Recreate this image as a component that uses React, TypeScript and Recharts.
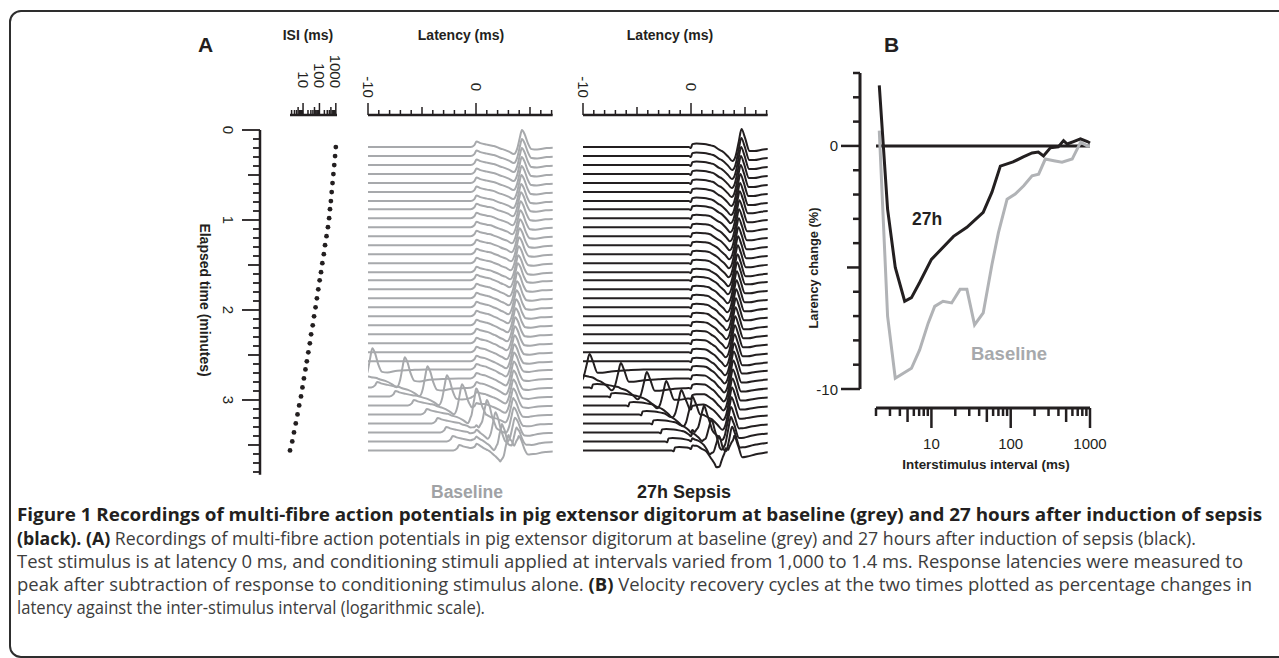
import React from "react";
import { LineChart, Line, XAxis, YAxis, ScatterChart, Scatter, ReferenceLine } from "recharts";

const INK = "#231f20";
const GREY = "#a7a9ac";
const SANS = "'Liberation Sans', Arial, sans-serif";
const CAPTION_FONT = "'Open Sans', 'Noto Sans', sans-serif";

// ---------- panel A: one row per recording ----------
// elapsed time of each recording (min) and its conditioning interval (ms)
const ROW_TIME = [
  0.19, 0.29, 0.39, 0.49, 0.59, 0.69, 0.79, 0.88, 0.98, 1.08, 1.18, 1.28,
  1.38, 1.48, 1.58, 1.67, 1.77, 1.87, 1.97, 2.07, 2.17, 2.27, 2.37, 2.47,
  2.57, 2.66, 2.76, 2.86, 2.96, 3.06, 3.16, 3.26, 3.36, 3.46, 3.56,
];
const ROW_ISI = [
  1000, 900, 800, 710, 630, 560, 500, 440, 390, 330, 270, 220, 185, 150, 125,
  103, 85, 70, 58, 47, 39, 31, 26, 21, 17, 14, 11.3, 9.2, 7.5, 5.8, 4.6, 3.6,
  2.8, 2.2, 1.6,
];

// latency (ms) of the test response peak in each row
const BASE_PEAK = [
  4.25, 4.25, 4.24, 4.23, 4.22, 4.2, 4.18, 4.16, 4.13, 4.1, 4.07, 4.03, 3.99,
  3.95, 3.91, 3.87, 3.83, 3.79, 3.75, 3.71, 3.67, 3.63, 3.6, 3.57, 3.54, 3.52,
  3.5, 3.48, 3.46, 3.45, 3.45, 3.5, 3.6, 3.75, 3.95,
];
const SEPSIS_PEAK = [
  4.68, 4.66, 4.64, 4.62, 4.6, 4.57, 4.54, 4.51, 4.48, 4.45, 4.42, 4.39, 4.36,
  4.33, 4.3, 4.27, 4.24, 4.21, 4.18, 4.15, 4.12, 4.09, 4.06, 4.03, 4.0, 3.96,
  3.92, 3.88, 3.84, 3.8, 3.75, 3.7, 3.7, 3.8, 4.0,
];

// latency (ms) of the conditioning response peak, where it shows in the window
const N = null;
const BASE_COND = [
  N, N, N, N, N, N, N, N, N, N, N, N, N, N, N, N, N, N, N, N, N, N, N, N, N,
  -9.6, -6.6, -4.5, -2.7, -1.3, 0.0, 1.0, 1.8, 2.4, 3.0,
];
const SEPSIS_COND = [
  N, N, N, N, N, N, N, N, N, N, N, N, N, N, N, N, N, N, N, N, N, N, N, N, N,
  -9.4, -6.5, -4.1, -2.3, -0.9, 0.1, 1.2, 1.9, 2.6, 3.2,
];
// size of the conditioning response against the test response
const BASE_COND_GAIN = 1.25;
const SEPSIS_COND_GAIN = 0.85;

// single-stimulus waveform (amplitude in px, up = +)
// stim part sits at the stimulus, resp part is placed on the response peak
const BASE_STIM_X = [-0.5, -0.15, 0.05, 0.4, 1.0, 1.6, 2.3];
const BASE_STIM_A = [0, 2, 5.5, 4, 2.5, 1.2, 0];
const BASE_RESP_X = [-2.6, -1.8, -1.2, -0.75, -0.42, -0.2, 0, 0.25, 0.55, 0.9, 1.4, 2.3, 3.5, 5];
const BASE_RESP_A = [0, -2, -4.5, -7, -1, 9, 17, 13, 4, -2, -2.5, -1, -0.5, 0];

const SEPSIS_STIM_X = [-0.2, 0.0, 0.12, 0.5, 1.2, 1.9, 2.6];
const SEPSIS_STIM_A = [0, -0.8, 3, 3.5, 3, 1.5, 0];
const SEPSIS_RESP_X = [-2.6, -1.8, -1.2, -0.85, -0.55, -0.25, 0, 0.3, 0.75, 1.2, 2.0, 3.5, 5];
const SEPSIS_RESP_A = [0, -4, -10, -14, -9, 6, 18, 10, -4, -4, -2.5, -1, 0];

const AMP = 1 / 90; // px of amplitude -> minutes on the row axis

// ---------- panel B: velocity recovery cycles ----------
const B_ISI_27H = [
  2.2, 2.8, 3.5, 4.6, 5.6, 7.1, 10, 19, 28, 45, 58, 74, 107, 144, 186, 223,
  259, 316, 398, 464, 516, 620, 758, 926, 1000,
];
const B_CHANGE_27H = [
  2.49, -2.6, -5.0, -6.39, -6.24, -5.62, -4.67, -3.72, -3.35, -2.73, -1.9,
  -0.83, -0.66, -0.45, -0.29, -0.25, -0.41, -0.08, -0.04, 0.22, 0.08, 0.18,
  0.29, 0.18, 0.12,
];
const B_ISI_BASE = [
  2.2, 2.8, 3.5, 5.6, 7.1, 9.1, 11, 14, 18, 23, 28, 35, 45, 58, 70, 90, 114,
  146, 186, 225, 273, 350, 444, 596, 760, 925, 1000,
];
const B_CHANGE_BASE = [
  0.63, -7.0, -9.56, -9.15, -8.39, -7.29, -6.6, -6.39, -6.46, -5.9, -5.9,
  -7.36, -6.87, -4.88, -3.57, -2.19, -1.98, -1.64, -1.23, -1.16, -0.54, -0.61,
  -0.67, -0.54, 0.15, 0.0, 0.0,
];

const LOG_TICKS = [
  2, 3, 4, 5, 6, 7, 8, 9, 10, 20, 30, 40, 50, 60, 70, 80, 90, 100, 200, 300,
  400, 500, 600, 700, 800, 900, 1000,
];
const LAT_TICKS = [-10, -9, -8, -7, -6, -5, -4, -3, -2, -1, 0, 1, 2, 3, 4, 5, 6, 7];
const TIME_TICKS = Array.from({ length: 39 }, (_, i) => i / 10);
const CHANGE_TICKS = [-10, -9, -8, -7, -6, -5, -4, -3, -2, -1, 0, 1, 2, 3];

type Wave = { x: number[]; a: number[] };

function waveAt(w: Wave, shift: number, x: number) {
  const u = x - shift;
  if (u <= w.x[0] || u >= w.x[w.x.length - 1]) return 0;
  for (let i = 1; i < w.x.length; i++) {
    if (u <= w.x[i]) {
      const f = (u - w.x[i - 1]) / (w.x[i] - w.x[i - 1]);
      return w.a[i - 1] + f * (w.a[i] - w.a[i - 1]);
    }
  }
  return 0;
}

function buildTrace(
  row: number,
  stim: Wave,
  resp: Wave,
  peaks: number[],
  cond: (number | null)[],
  gain: number
) {
  const parts: [Wave, number, number][] = [
    [stim, 0, 1],
    [resp, peaks[row], 1],
  ];
  const c = cond[row];
  if (c != null) {
    parts.push([stim, -ROW_ISI[row], 1]);
    parts.push([resp, c, gain]);
  }
  const xs = new Set<number>([-10.5, 7.5]);
  parts.forEach(([w, s]) => w.x.forEach((v) => xs.add(+(v + s).toFixed(3))));
  return [...xs]
    .sort((a, b) => a - b)
    .map((x) => ({
      lat: x,
      t: ROW_TIME[row] - AMP * parts.reduce((sum, [w, s, g]) => sum + g * waveAt(w, s, x), 0),
    }));
}

const baseStim = { x: BASE_STIM_X, a: BASE_STIM_A };
const baseResp = { x: BASE_RESP_X, a: BASE_RESP_A };
const sepsisStim = { x: SEPSIS_STIM_X, a: SEPSIS_STIM_A };
const sepsisResp = { x: SEPSIS_RESP_X, a: SEPSIS_RESP_A };

const baseTraces = ROW_TIME.map((_, i) =>
  buildTrace(i, baseStim, baseResp, BASE_PEAK, BASE_COND, BASE_COND_GAIN)
);
const sepsisTraces = ROW_TIME.map((_, i) =>
  buildTrace(i, sepsisStim, sepsisResp, SEPSIS_PEAK, SEPSIS_COND, SEPSIS_COND_GAIN)
);
const dots = ROW_ISI.map((isi, i) => ({ isi, t: ROW_TIME[i] }));
const line27h = B_ISI_27H.map((isi, i) => ({ isi, v: B_CHANGE_27H[i] }));
const lineBase = B_ISI_BASE.map((isi, i) => ({ isi, v: B_CHANGE_BASE[i] }));

const ZERO = { top: 0, right: 0, bottom: 0, left: 0 };
const axisLine = { stroke: INK, strokeWidth: 2.5 };

// ---------- tick renderers ----------
const IsiTick = ({ x, y, payload }: any) => {
  const v = payload.value;
  const major = v === 10 || v === 100 || v === 1000;
  const mid = v === 5 || v === 50 || v === 500;
  const len = major ? 12 : mid ? 8 : 5;
  return (
    <g>
      <line x1={x} x2={x} y1={y} y2={y - len} stroke={INK} strokeWidth={1.5} />
      {major && (
        <text
          transform={`translate(${x},${y - 27}) rotate(90)`}
          textAnchor="end"
          dominantBaseline="central"
          fontSize={15}
          fontFamily={SANS}
          fill={INK}
        >
          {v}
        </text>
      )}
    </g>
  );
};

const LatTick = ({ x, y, payload }: any) => {
  const v = payload.value;
  const major = v === -10 || v === 0;
  const len = major ? 12 : Math.abs(v) === 5 ? 8 : 5;
  return (
    <g>
      <line x1={x} x2={x} y1={y} y2={y - len} stroke={INK} strokeWidth={1.5} />
      {major && (
        <text
          transform={`translate(${x},${y - 28}) rotate(90)`}
          textAnchor="middle"
          dominantBaseline="central"
          fontSize={15}
          fontFamily={SANS}
          fill={INK}
        >
          {v}
        </text>
      )}
    </g>
  );
};

const TimeTick = ({ x, y, payload }: any) => {
  const k = Math.round(payload.value * 10);
  const major = k % 10 === 0;
  const len = major ? 18 : k % 5 === 0 ? 12 : 7;
  return (
    <g>
      <line x1={x - len} x2={x} y1={y} y2={y} stroke={INK} strokeWidth={1.8} />
      {major && (
        <text
          transform={`translate(${x - 32},${y}) rotate(90)`}
          textAnchor="middle"
          dominantBaseline="central"
          fontSize={15}
          fontFamily={SANS}
          fill={INK}
        >
          {k / 10}
        </text>
      )}
    </g>
  );
};

const ChangeTick = ({ x, y, payload }: any) => {
  const v = payload.value;
  const len = v === 0 || v === -10 ? 19 : v === -5 ? 13 : 7;
  return (
    <g>
      <line x1={x - len} x2={x} y1={y} y2={y} stroke={INK} strokeWidth={2.5} />
      {(v === 0 || v === -10) && (
        <text x={x - 22} y={y} textAnchor="end" dominantBaseline="central" fontSize={15} fontFamily={SANS} fill={INK}>
          {v}
        </text>
      )}
    </g>
  );
};

const IntervalTick = ({ x, y, payload }: any) => {
  const v = payload.value;
  const major = v === 10 || v === 100 || v === 1000;
  const len = major ? 20 : v === 5 || v === 50 || v === 500 ? 14 : 8;
  return (
    <g>
      <line x1={x} x2={x} y1={y} y2={y + len} stroke={INK} strokeWidth={2.5} />
      {major && (
        <text x={x} y={y + 41} textAnchor="middle" fontSize={15} fontFamily={SANS} fill={INK}>
          {v}
        </text>
      )}
    </g>
  );
};

const Dot = ({ cx, cy }: any) => <circle cx={cx} cy={cy} r={2.4} fill={INK} />;

const place = (left: number, top: number): React.CSSProperties => ({ position: "absolute", left, top });

function TraceChart({ left, traces, color }: { left: number; traces: { lat: number; t: number }[][]; color: string }) {
  return (
    <div style={place(left, 55)}>
      <LineChart width={184.7} height={435} margin={ZERO}>
        <XAxis
          dataKey="lat"
          type="number"
          orientation="top"
          domain={[-10, 7.1]}
          ticks={LAT_TICKS}
          interval={0}
          allowDataOverflow
          height={60}
          tickSize={0}
          tickMargin={0}
          tickLine={false}
          axisLine={axisLine}
          tick={<LatTick />}
        />
        <YAxis hide type="number" dataKey="t" domain={[-1 / 6, 4]} reversed allowDataOverflow />
        {traces.map((d, i) => (
          <Line
            key={i}
            data={d}
            dataKey="t"
            type="monotone"
            stroke={color}
            strokeWidth={2}
            dot={false}
            isAnimationActive={false}
          />
        ))}
      </LineChart>
    </div>
  );
}

const Caption = ({ y, width, children }: { y: number; width: number; children: React.ReactNode }) => (
  <text x={17} y={y} textLength={width} lengthAdjust="spacingAndGlyphs" fontSize={18} fontFamily={CAPTION_FONT} fill="#3d3d3d">
    {children}
  </text>
);

export default function App() {
  return (
    <div style={{ position: "absolute", left: 0, top: 0, width: 1279, height: 658, overflow: "hidden", background: "#fff" }}>
      <style>{`.recharts-surface{overflow:visible}`}</style>
      <div
        style={{
          position: "absolute",
          left: 9,
          top: 10,
          width: 1300,
          height: 644,
          border: "2px solid #2e2e2e",
          borderRadius: 12,
        }}
      />

      {/* ISI dots against elapsed time */}
      <div style={place(290, 55)}>
        <ScatterChart width={47} height={419.7} margin={ZERO}>
          <XAxis
            dataKey="isi"
            type="number"
            scale="log"
            domain={[1.9, 1180]}
            orientation="top"
            ticks={LOG_TICKS}
            interval={0}
            height={60}
            tickSize={0}
            tickMargin={0}
            tickLine={false}
            axisLine={axisLine}
            tick={<IsiTick />}
          />
          <YAxis hide type="number" dataKey="t" domain={[-1 / 6, 3.83]} reversed />
          <Scatter data={dots} shape={<Dot />} isAnimationActive={false} />
        </ScatterChart>
      </div>

      {/* elapsed time axis */}
      <div style={place(200, 130)}>
        <LineChart width={70} height={344.7} margin={ZERO} data={dots}>
          <XAxis hide dataKey="isi" type="number" />
          <YAxis
            type="number"
            dataKey="t"
            domain={[0, 3.83]}
            reversed
            ticks={TIME_TICKS}
            interval={0}
            width={60}
            tickSize={0}
            tickMargin={0}
            tickLine={false}
            axisLine={axisLine}
            tick={<TimeTick />}
          />
        </LineChart>
      </div>

      <TraceChart left={368} traces={baseTraces} color={GREY} />
      <TraceChart left={583} traces={sepsisTraces} color={INK} />

      {/* panel B plot */}
      <div style={place(876, 73)}>
        <LineChart width={214} height={316} margin={ZERO}>
          <XAxis hide dataKey="isi" type="number" scale="log" domain={[2, 1000]} />
          <YAxis hide type="number" domain={[-10, 3]} />
          <ReferenceLine y={0} stroke={INK} strokeWidth={3} />
          <Line data={lineBase} dataKey="v" type="linear" stroke="#b1b3b6" strokeWidth={3} dot={false} isAnimationActive={false} />
          <Line data={line27h} dataKey="v" type="linear" stroke={INK} strokeWidth={3} dot={false} isAnimationActive={false} />
        </LineChart>
      </div>

      {/* panel B y axis */}
      <div style={place(800, 73)}>
        <LineChart width={70} height={316} margin={ZERO} data={lineBase}>
          <XAxis hide dataKey="isi" type="number" />
          <YAxis
            type="number"
            dataKey="v"
            domain={[-10, 3]}
            ticks={CHANGE_TICKS}
            interval={0}
            width={60}
            tickSize={0}
            tickMargin={0}
            tickLine={false}
            axisLine={{ stroke: INK, strokeWidth: 3 }}
            tick={<ChangeTick />}
          />
        </LineChart>
      </div>

      {/* panel B x axis */}
      <div style={place(876, 398)}>
        <LineChart width={214} height={60} margin={ZERO} data={lineBase}>
          <XAxis
            dataKey="isi"
            type="number"
            scale="log"
            domain={[2, 1000]}
            ticks={LOG_TICKS}
            interval={0}
            height={50}
            tickSize={0}
            tickMargin={0}
            tickLine={false}
            axisLine={{ stroke: INK, strokeWidth: 3 }}
            tick={<IntervalTick />}
          />
          <YAxis hide type="number" dataKey="v" domain={[-10, 3]} />
        </LineChart>
      </div>

      {/* titles, labels and caption */}
      <svg width={1279} height={658} style={{ position: "absolute", left: 0, top: 0, pointerEvents: "none" }}>
        <g fontFamily={SANS} fontWeight="bold" fill={INK}>
          <text x={198} y={52} fontSize={21}>A</text>
          <text x={884} y={52} fontSize={21}>B</text>
          <text x={308} y={40} fontSize={14} textAnchor="middle">ISI (ms)</text>
          <text x={461} y={40} fontSize={14} textAnchor="middle">Latency (ms)</text>
          <text x={670} y={40} fontSize={14} textAnchor="middle">Latency (ms)</text>
          <text transform="translate(205,300) rotate(90)" fontSize={14} textAnchor="middle" dominantBaseline="central">
            Elapsed time  (minutes)
          </text>
          <text x={467} y={498} fontSize={17.5} textAnchor="middle" fill="#a0a2a5">Baseline</text>
          <text x={684} y={498} fontSize={18} textAnchor="middle">27h Sepsis</text>
          <text x={927} y={225} fontSize={17.5} textAnchor="middle">27h</text>
          <text x={1009} y={360} fontSize={18.5} textAnchor="middle" fill="#a7a9ac">Baseline</text>
          <text transform="translate(813,268) rotate(-90)" fontSize={12.8} textAnchor="middle" dominantBaseline="central">
            Larency change (%)
          </text>
          <text x={986} y={469} fontSize={13.4} textAnchor="middle">Interstimulus interval (ms)</text>
        </g>
        <Caption y={521} width={1245}>
          <tspan fontWeight="bold" fill={INK}>
            Figure 1 Recordings of multi-fibre action potentials in pig extensor digitorum at baseline (grey) and 27 hours after induction of sepsis
          </tspan>
        </Caption>
        <Caption y={545} width={1179}>
          <tspan fontWeight="bold" fill={INK}>(black). (A)</tspan>
          {" Recordings of multi-fibre action potentials in pig extensor digitorum at baseline (grey) and 27 hours after induction of sepsis (black)."}
        </Caption>
        <Caption y={568} width={1226}>
          Test stimulus is at latency 0 ms, and conditioning stimuli applied at intervals varied from 1,000 to 1.4 ms. Response latencies were measured to
        </Caption>
        <Caption y={591} width={1235}>
          {"peak after subtraction of response to conditioning stimulus alone. "}
          <tspan fontWeight="bold" fill={INK}>(B)</tspan>
          {" Velocity recovery cycles at the two times plotted as percentage changes in"}
        </Caption>
        <Caption y={614} width={468}>
          latency against the inter-stimulus interval (logarithmic scale).
        </Caption>
      </svg>
    </div>
  );
}
